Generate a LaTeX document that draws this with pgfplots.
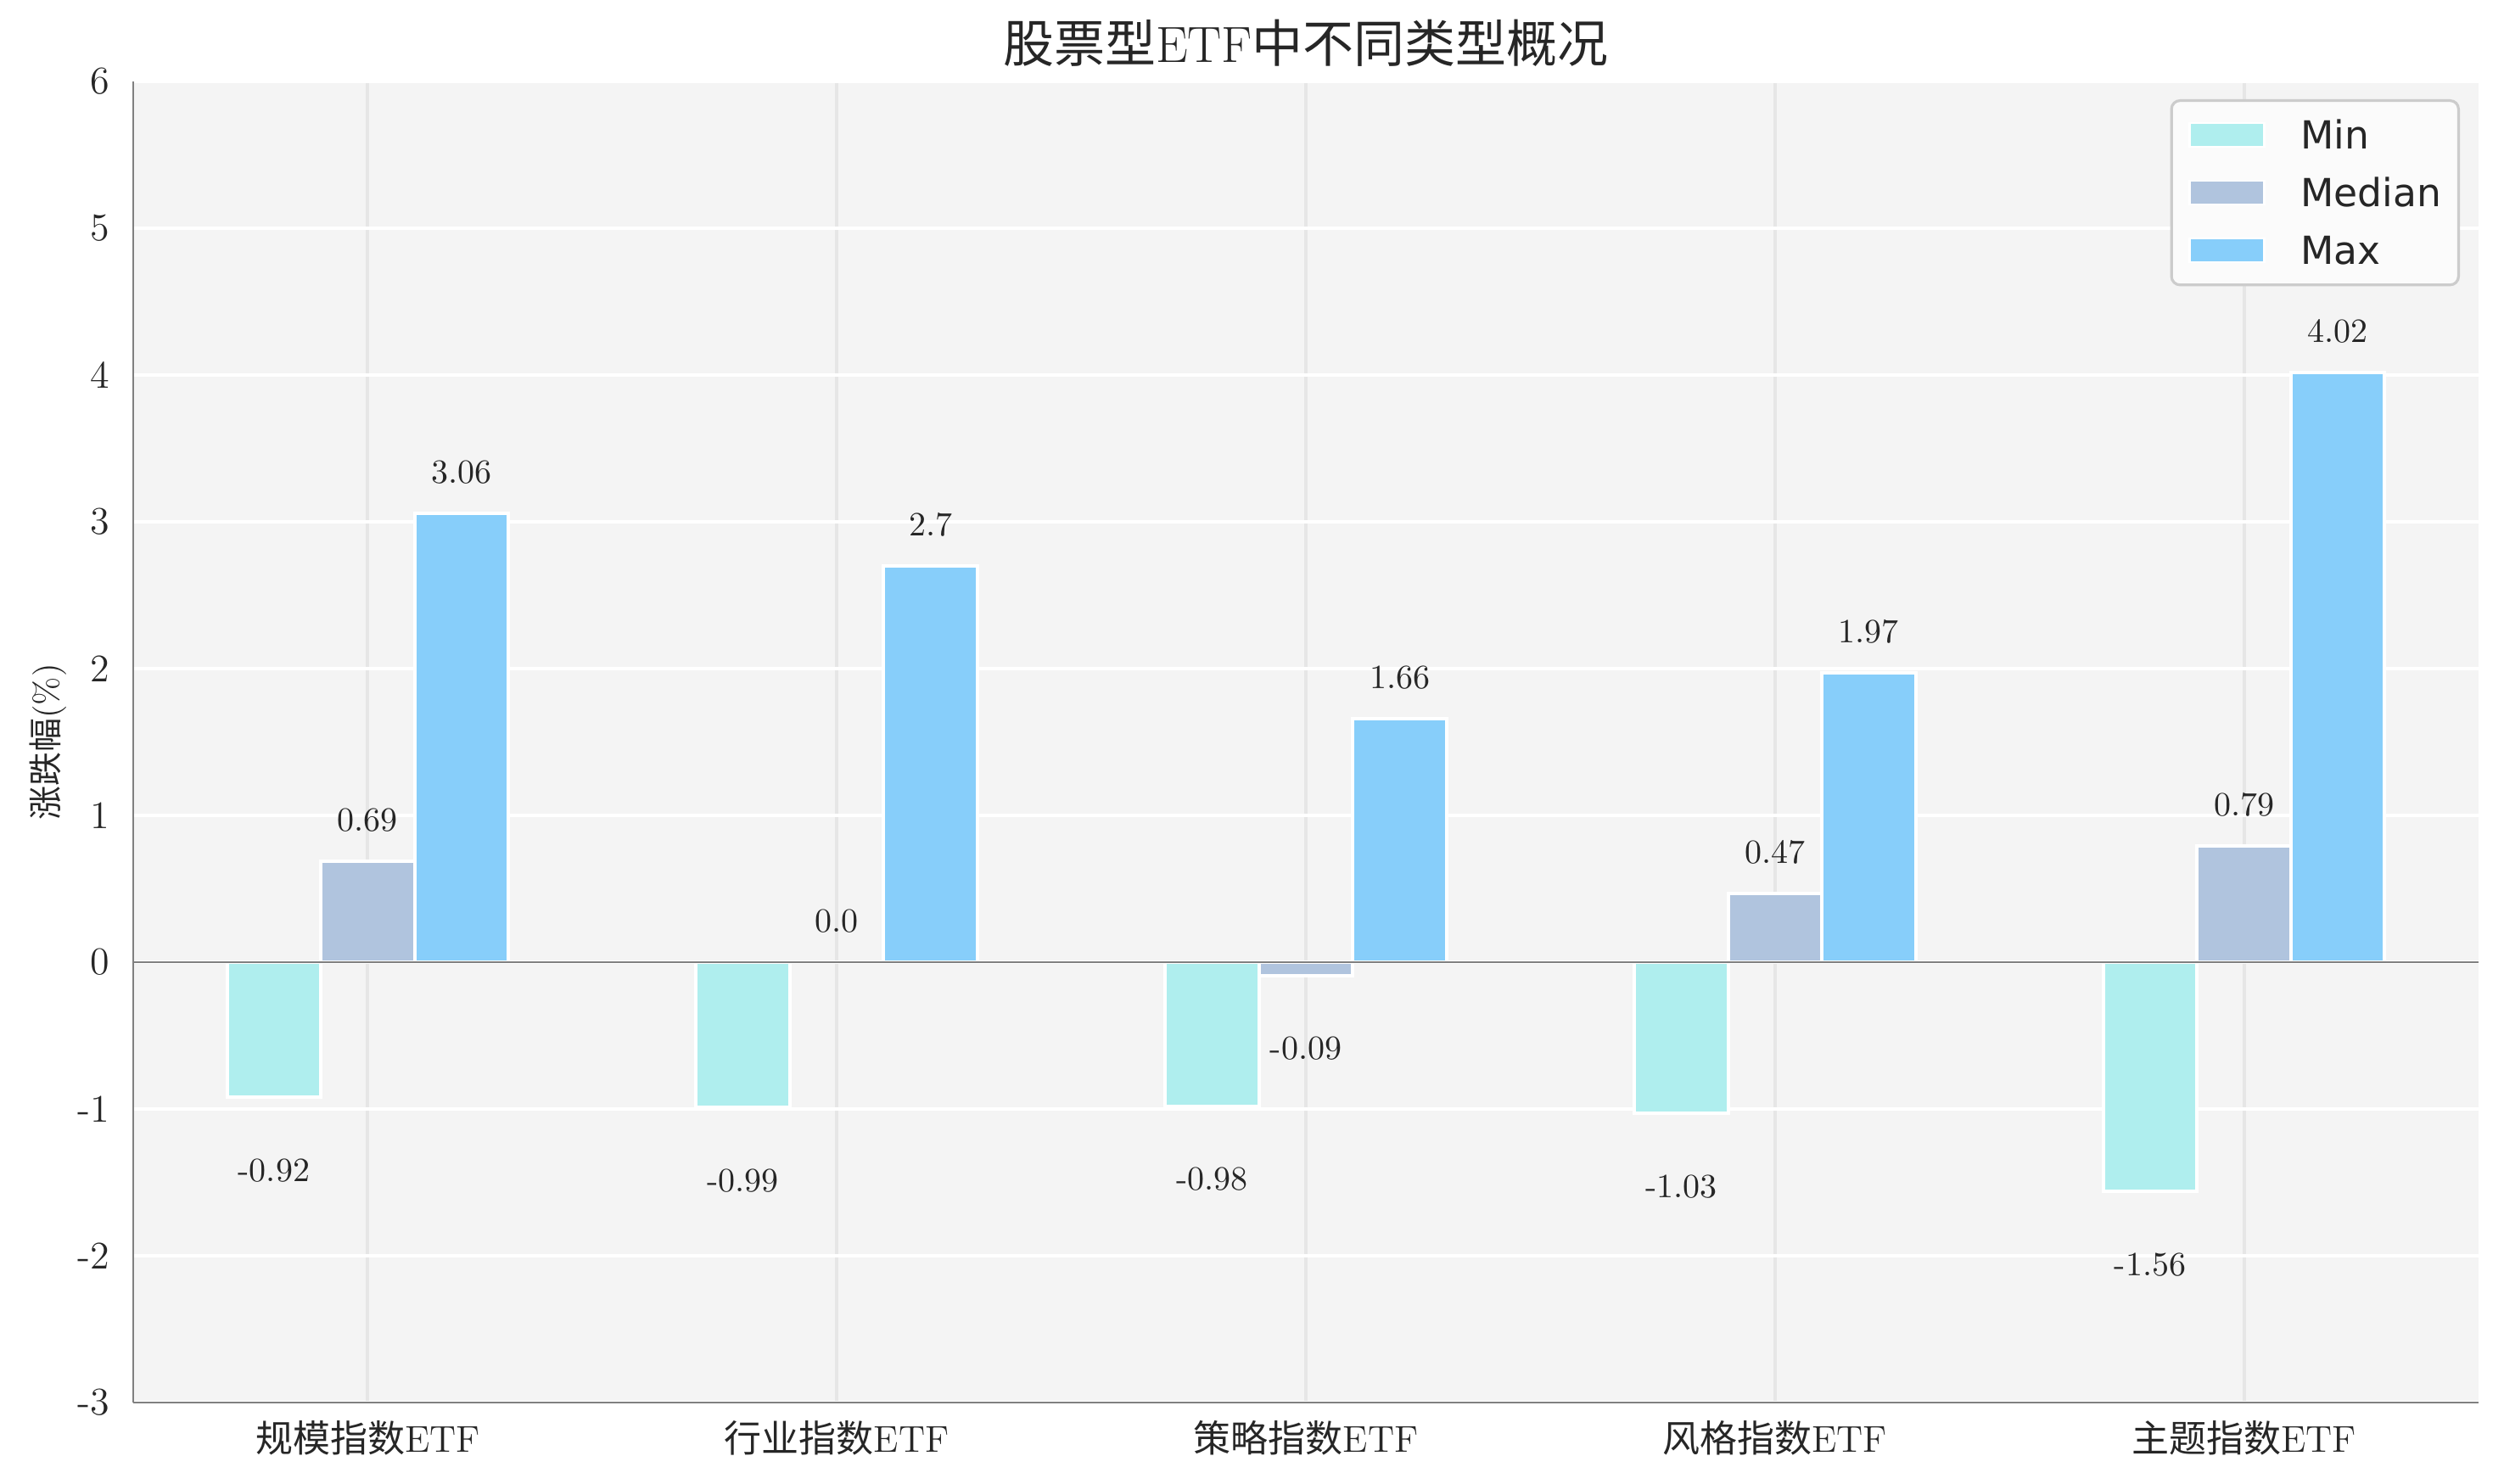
\documentclass[border=0pt]{standalone}
\usepackage{fontspec}
\usepackage{pgfplots}
\pgfplotsset{compat=1.18}
\newfontfamily\cjk{Noto Sans CJK SC}
\newfontfamily\legfont{DejaVu Sans}
\definecolor{cMin}{HTML}{AFEEEE}
\definecolor{cMed}{HTML}{B0C4DE}
\definecolor{cMax}{HTML}{87CEFA}
\definecolor{bg}{HTML}{F4F4F4}
\definecolor{vgrid}{HTML}{E6E6E6}
\definecolor{spine}{HTML}{808080}
\definecolor{txt}{HTML}{262626}
\definecolor{legedge}{HTML}{CCCCCC}
\definecolor{legfill}{HTML}{FBFBFB}
\pgfplotsset{
  barlab/.style={
    nodes near coords,
    point meta=explicit symbolic,
    visualization depends on={rawy \as \rawy},
    every node near coord/.append style={anchor=center, font=\fontsize{10}{12}\selectfont, text=txt,
      xshift=#1, yshift={ifthenelse(\rawy<0,-21.6,12.1)}},
  },
  mybar/.style={ybar, bar width=0.2, draw=white, line width=1pt, barlab=#1},
}
\begin{document}
\begin{tikzpicture}
\begin{axis}[
  scale only axis, width=691pt, height=389.25pt,
  xmin=-0.5, xmax=4.5, ymin=-3, ymax=6,
  axis background/.style={fill=bg},
  axis x line=bottom, axis y line=left,
  axis line style={-, draw=spine, line width=0.67pt},
  major tick length=0pt,
  xtick={0,1,2,3,4},
  xticklabels={{{\cjk 规模指数}ETF},{{\cjk 行业指数}ETF},{{\cjk 策略指数}ETF},{{\cjk 风格指数}ETF},{{\cjk 主题指数}ETF}},
  ytick={-3,-2,-1,0,1,2,3,4,5,6},
  yticklabels={-3,-2,-1,0,1,2,3,4,5,6},
  xmajorgrids, ymajorgrids,
  x grid style={vgrid, line width=1pt},
  y grid style={white, line width=1pt},
  yticklabel style={font=\fontsize{11.5}{13}\selectfont, text=txt, xshift=-3.4pt},
  xticklabel style={font=\fontsize{11}{13}\selectfont, text=txt, yshift=-1.8pt},
  title={{\cjk 股票型}ETF{\cjk 中不同类型概况}},
  every axis title/.style={at={(0.5,1)}, anchor=center, yshift=11.3pt, font=\fontsize{15}{18}\selectfont, text=txt},
  ylabel={{\cjk 涨跌幅}(\%)},
  every axis y label/.style={at={(axis description cs:-0.0362,0.5)}, rotate=90, anchor=center, font=\fontsize{10}{12}\selectfont, text=txt},
  legend image code/.code={\draw[#1,/tikz/.cd, draw=white, line width=0.6pt, sharp corners] (0pt,0.65pt) rectangle (22pt,7.65pt);},
  legend cell align=left,
  legend style={at={(1,1)}, anchor=north east, xshift=-5.5pt, yshift=-5.25pt,
    draw=legedge, line width=0.8pt, fill=legfill, rounded corners=2.5pt,
    inner xsep=5pt, inner ysep=6pt,
    font=\legfont\fontsize{11.4}{13}\selectfont, text=txt,
    nodes={inner sep=0pt, text height=8.3pt, text depth=0pt, anchor=base west},
    row sep=8.7pt, column sep=10.5pt},
]
\addplot[mybar=-27.64pt, bar shift=-0.2, fill=cMin] coordinates {
  (0,-0.92) [-0.92] (1,-0.99) [-0.99] (2,-0.98) [-0.98] (3,-1.03) [-1.03] (4,-1.56) [-1.56]};
\addplot[mybar=0pt, bar shift=0, fill=cMed] coordinates {
  (0,0.69) [0.69] (1,0.0) [0.0] (2,-0.09) [-0.09] (3,0.47) [0.47] (4,0.79) [0.79]};
\addplot[mybar=27.64pt, bar shift=0.2, fill=cMax] coordinates {
  (0,3.06) [3.06] (1,2.7) [2.7] (2,1.66) [1.66] (3,1.97) [1.97] (4,4.02) [4.02]};
\addplot[spine, line width=0.67pt, mark=none, forget plot] coordinates {(-0.5,0) (4.5,0)};
\legend{Min,Median,Max}
\end{axis}
\pgfresetboundingbox
\path[use as bounding box] ([xshift=-39.25pt,yshift=-24pt]current axis.south west) rectangle ([xshift=7.5pt,yshift=24pt]current axis.north east);
\end{tikzpicture}
\end{document}
